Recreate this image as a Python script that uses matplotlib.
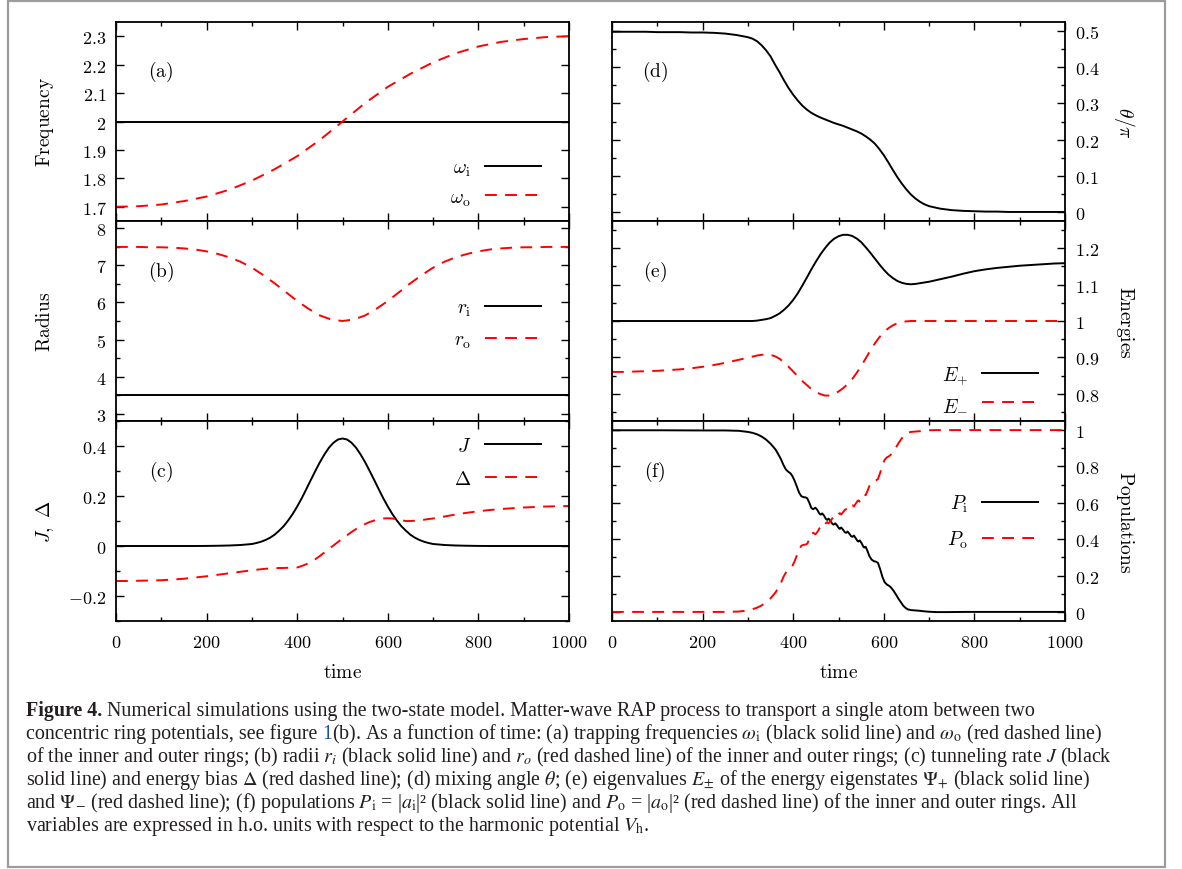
import matplotlib
matplotlib.use('Agg')
import matplotlib.pyplot as plt
from matplotlib.ticker import MultipleLocator, FuncFormatter, NullLocator
from matplotlib.patches import Rectangle

plt.rcParams['mathtext.fontset'] = 'cm'
plt.rcParams['lines.scale_dashes'] = False
plt.rcParams['font.family'] = ['DejaVu Sans']

# ---------------- data ----------------
t_a = [0, 50, 100, 150, 200, 250, 300, 350, 400, 450, 500,
       550, 600, 650, 700, 750, 800, 850, 900, 950, 1000]
omega_i = [2.0] * len(t_a)
omega_o = [1.700, 1.702, 1.708, 1.720, 1.736, 1.760, 1.792, 1.832, 1.878, 1.935, 2.000,
           2.065, 2.122, 2.168, 2.208, 2.240, 2.264, 2.280, 2.290, 2.297, 2.300]

t_b = list(range(0, 1001, 25))
r_i = [3.5] * len(t_b)
r_o = [7.50, 7.50, 7.50, 7.49, 7.49, 7.48, 7.46, 7.43, 7.38, 7.31, 7.22, 7.10, 6.94, 6.74,
       6.52, 6.28, 6.04, 5.83, 5.65, 5.54, 5.50, 5.54, 5.65, 5.83, 6.04, 6.28, 6.52, 6.74,
       6.94, 7.10, 7.22, 7.31, 7.38, 7.43, 7.46, 7.48, 7.49, 7.49, 7.50, 7.50, 7.50]

# time grid for panels (c), (d), (e): coarse at the ends, fine in the middle
t_c = ([0, 25, 50, 75, 100, 125, 150, 175, 200, 225, 250, 275, 300] +
       [310, 320, 330, 340, 350, 360, 370, 380, 390, 400, 410, 420, 430, 440, 450, 460,
        470, 480, 490, 500, 510, 520, 530, 540, 550, 560, 570, 580, 590, 600, 610, 620,
        630, 640, 650, 660, 670, 680, 690, 700] +
       [725, 750, 775, 800, 825, 850, 875, 900, 925, 950, 975, 1000])

J = ([0, 0, 0, 0, 0, 0, 0, 0, 0.0003, 0.001, 0.002, 0.004, 0.008] +
     [0.012, 0.017, 0.024, 0.033, 0.045, 0.061, 0.079, 0.102, 0.128, 0.158, 0.191, 0.227,
      0.264, 0.300, 0.335, 0.366, 0.393, 0.413, 0.426, 0.430, 0.426, 0.413, 0.393, 0.366,
      0.335, 0.300, 0.264, 0.227, 0.191, 0.158, 0.128, 0.102, 0.079, 0.061, 0.045, 0.033,
      0.024, 0.017, 0.012, 0.008] +
     [0.004, 0.002, 0.001, 0.0003, 0, 0, 0, 0, 0, 0, 0, 0])
Delta = ([-0.140, -0.140, -0.139, -0.138, -0.137, -0.134, -0.131, -0.126, -0.121, -0.115,
          -0.109, -0.103, -0.097] +
         [-0.095, -0.093, -0.091, -0.090, -0.089, -0.088, -0.088, -0.087, -0.087, -0.086,
          -0.080, -0.073, -0.064, -0.053, -0.040, -0.026, -0.012, 0.002, 0.016, 0.030,
          0.043, 0.056, 0.068, 0.079, 0.088, 0.096, 0.102, 0.107, 0.110, 0.111, 0.110,
          0.107, 0.103, 0.100, 0.100, 0.101, 0.103, 0.105, 0.108, 0.110] +
         [0.118, 0.126, 0.133, 0.139, 0.144, 0.148, 0.151, 0.154, 0.156, 0.158, 0.159, 0.160])

theta_pi = ([0.498, 0.498, 0.498, 0.498, 0.497, 0.497, 0.497, 0.496, 0.496, 0.495, 0.493,
             0.489, 0.483] +
            [0.479, 0.472, 0.461, 0.447, 0.430, 0.407, 0.386, 0.363, 0.342, 0.324, 0.308,
             0.294, 0.283, 0.274, 0.267, 0.261, 0.256, 0.251, 0.246, 0.242, 0.238, 0.233,
             0.228, 0.223, 0.217, 0.209, 0.200, 0.189, 0.174, 0.157, 0.137, 0.116, 0.096,
             0.078, 0.062, 0.048, 0.037, 0.028, 0.021, 0.016] +
            [0.009, 0.005, 0.003, 0.002, 0.001, 0.001, 0.0, 0.0, 0.0, 0.0, 0.0, 0.0])

E_plus = ([1.0, 1.0, 1.0, 1.0, 1.0, 1.0, 1.0, 1.0, 1.0, 1.0, 1.0, 1.0, 1.0] +
          [1.000, 1.001, 1.003, 1.005, 1.008, 1.014, 1.021, 1.031, 1.043, 1.058, 1.076,
           1.097, 1.119, 1.142, 1.163, 1.183, 1.200, 1.215, 1.226, 1.233, 1.237, 1.237,
           1.234, 1.227, 1.217, 1.203, 1.188, 1.172, 1.156, 1.141, 1.128, 1.118, 1.110,
           1.105, 1.102, 1.101, 1.102, 1.104, 1.106, 1.108] +
          [1.115, 1.122, 1.130, 1.137, 1.142, 1.146, 1.149, 1.152, 1.154, 1.156, 1.158, 1.159])
E_minus = ([0.860, 0.860, 0.861, 0.862, 0.863, 0.865, 0.867, 0.870, 0.874, 0.879, 0.885,
            0.892, 0.899] +
           [0.902, 0.905, 0.907, 0.908, 0.907, 0.903, 0.896, 0.886, 0.874, 0.861, 0.848,
            0.835, 0.824, 0.813, 0.805, 0.799, 0.795, 0.795, 0.799, 0.806, 0.815, 0.826,
            0.840, 0.857, 0.876, 0.897, 0.918, 0.938, 0.955, 0.969, 0.980, 0.988, 0.994,
            0.997, 0.999, 1.0, 1.0, 1.0, 1.0, 1.0] +
           [1.0, 1.0, 1.0, 1.0, 1.0, 1.0, 1.0, 1.0, 1.0, 1.0, 1.0, 1.0])

t_f = [0, 100, 200, 250, 280, 300, 310, 320, 330, 340,
       350, 356, 361, 366, 373, 379, 384, 389, 394, 398,
       403, 408, 413, 418, 423, 427, 431, 436, 440, 444,
       449, 453, 458, 461, 464, 468, 472, 475, 478, 482,
       486, 489, 493, 497, 501, 503, 506, 510, 514, 517,
       520, 524, 528, 531, 534, 538, 542, 544, 547, 551,
       555, 557, 560, 564, 568, 573, 578, 583, 587, 592,
       597, 602, 607, 612, 616, 621, 627, 633, 638, 643,
       648, 653, 660, 670, 680, 690, 700, 715, 740, 780,
       850, 900, 1000]
P_i = [0.999, 0.999, 0.998, 0.998, 0.996, 0.990, 0.985, 0.977, 0.965, 0.948,
       0.925, 0.908, 0.893, 0.872, 0.840, 0.805, 0.783, 0.771, 0.762, 0.748,
       0.722, 0.690, 0.656, 0.636, 0.631, 0.630, 0.625, 0.598, 0.572, 0.565,
       0.573, 0.562, 0.540, 0.535, 0.542, 0.530, 0.512, 0.506, 0.513, 0.502,
       0.486, 0.480, 0.487, 0.475, 0.460, 0.457, 0.464, 0.452, 0.438, 0.435,
       0.442, 0.430, 0.416, 0.413, 0.420, 0.405, 0.390, 0.387, 0.393, 0.378,
       0.358, 0.354, 0.358, 0.335, 0.308, 0.288, 0.279, 0.276, 0.270, 0.235,
       0.192, 0.163, 0.150, 0.143, 0.134, 0.118, 0.095, 0.070, 0.052, 0.034,
       0.022, 0.014, 0.010, 0.008, 0.006, 0.003, 0.001, -0.001, -0.001, 0.000,
       0.000, 0.000, 0.000]
P_o = [0.000, 0.000, 0.000, 0.000, 0.002, 0.008, 0.015, 0.023, 0.035, 0.052,
       0.075, 0.092, 0.107, 0.128, 0.160, 0.195, 0.217, 0.229, 0.238, 0.252,
       0.278, 0.310, 0.344, 0.364, 0.369, 0.370, 0.375, 0.402, 0.428, 0.435,
       0.427, 0.438, 0.460, 0.465, 0.458, 0.470, 0.488, 0.494, 0.487, 0.498,
       0.514, 0.520, 0.513, 0.525, 0.540, 0.543, 0.536, 0.548, 0.562, 0.565,
       0.558, 0.570, 0.584, 0.587, 0.580, 0.595, 0.610, 0.613, 0.607, 0.622,
       0.642, 0.646, 0.642, 0.665, 0.692, 0.712, 0.721, 0.724, 0.730, 0.765,
       0.808, 0.837, 0.850, 0.857, 0.866, 0.882, 0.905, 0.930, 0.948, 0.966,
       0.978, 0.986, 0.990, 0.992, 0.994, 0.997, 0.999, 1.000, 1.000, 1.000,
       1.000, 1.000, 1.000]

x_ticks_major = 200
x_ticks_minor = 100

# ---------------- figure ----------------
W, H, DPI = 1182, 870, 100
fig = plt.figure(figsize=(W / DPI, H / DPI), dpi=DPI)
fig.patch.set_facecolor('white')


def px_axes(x0, y0, x1, y1):
    return fig.add_axes([x0 / W, 1 - y1 / H, (x1 - x0) / W, (y1 - y0) / H])


def fmt(v, p):
    v = round(v, 6) + 0.0
    return f'${v:g}$'


def style(ax, ylim, major, minor, side, xlabels):
    ax.set_xlim(0, 1000)
    ax.set_ylim(*ylim)
    ax.xaxis.set_major_locator(MultipleLocator(x_ticks_major))
    ax.xaxis.set_minor_locator(MultipleLocator(x_ticks_minor))
    ax.yaxis.set_major_locator(MultipleLocator(major))
    if minor:
        ax.yaxis.set_minor_locator(MultipleLocator(minor))
    else:
        ax.yaxis.set_minor_locator(NullLocator())
    ax.tick_params(which='both', direction='in', top=True, right=True,
                   left=True, bottom=True, width=1.0, colors='black', labelsize=13)
    ax.tick_params(which='major', length=5.5)
    ax.tick_params(which='minor', length=3)
    ax.tick_params(axis='y', labelleft=(side == 'left'), labelright=(side == 'right'), pad=7)
    ax.tick_params(axis='x', labelbottom=xlabels, pad=9)
    ax.xaxis.set_major_formatter(FuncFormatter(fmt))
    ax.yaxis.set_major_formatter(FuncFormatter(fmt))
    for s in ax.spines.values():
        s.set_linewidth(1.3)


LW = 1.4
DASH = (0, (8.5, 6.0))
RED = '#ff0000'


def legend(ax, anchor, spacing):
    ax.legend(loc='center right', bbox_to_anchor=anchor, markerfirst=False,
              frameon=False, handlelength=2.85, handletextpad=0.75,
              labelspacing=spacing, borderpad=0, borderaxespad=0, fontsize=14)


def ylab(ax, text, side):
    if side == 'left':
        ax.set_ylabel(text, rotation=90, va='center', ha='center', fontsize=14)
        ax.yaxis.set_label_coords(-0.157, 0.5)
    else:
        ax.yaxis.set_label_position('right')
        ax.set_ylabel(text, rotation=270, va='center', ha='center', fontsize=14)
        ax.yaxis.set_label_coords(1.132, 0.5)


def panel_tag(ax, tag, x):
    ax.text(x, 0.752, r'$\mathrm{(' + tag + ')}$', transform=ax.transAxes,
            ha='center', va='center', fontsize=14)


L0, L1 = 116, 569
R0, R1 = 612, 1065
rows = [(23, 222), (222, 422), (422, 622)]

# (a)
ax = px_axes(L0, rows[0][0], L1, rows[0][1])
ax.plot(t_a, omega_i, color='black', lw=LW, label=r'$\omega_{\rm i}$')
ax.plot(t_a, omega_o, color=RED, lw=LW, linestyle=DASH, label=r'$\omega_{\rm o}$')
style(ax, (1.65, 2.35), 0.1, None, 'left', False)
ylab(ax, r'$\mathrm{Frequency}$', 'left')
panel_tag(ax, 'a', 0.099)
legend(ax, (0.938, 0.193), 0.48)

# (b)
ax = px_axes(L0, rows[1][0], L1, rows[1][1])
ax.plot(t_b, r_i, color='black', lw=LW, label=r'$r_{\rm i}$')
ax.plot(t_b, r_o, color=RED, lw=LW, linestyle=DASH, label=r'$r_{\rm o}$')
style(ax, (2.8, 8.2), 1, 0.5, 'left', False)
ylab(ax, r'$\mathrm{Radius}$', 'left')
panel_tag(ax, 'b', 0.099)
legend(ax, (0.938, 0.485), 0.62)

# (c)
ax = px_axes(L0, rows[2][0], L1, rows[2][1])
ax.plot(t_c, J, color='black', lw=LW, label=r'$J$')
ax.plot(t_c, Delta, color=RED, lw=LW, linestyle=DASH, label=r'$\Delta$')
style(ax, (-0.3, 0.5), 0.2, 0.1, 'left', True)
ylab(ax, r'$J,\ \Delta$', 'left')
ax.set_xlabel(r'$\mathrm{time}$', fontsize=14, va='center')
ax.xaxis.set_label_coords(0.5, -0.255)
panel_tag(ax, 'c', 0.099)
legend(ax, (0.938, 0.795), 0.72)

# (d)
ax = px_axes(R0, rows[0][0], R1, rows[0][1])
ax.plot(t_c, theta_pi, color='black', lw=LW)
style(ax, (-0.025, 0.525), 0.1, 0.05, 'right', False)
ylab(ax, r'$\theta/\pi$', 'right')
panel_tag(ax, 'd', 0.095)

# (e)
ax = px_axes(R0, rows[1][0], R1, rows[1][1])
ax.plot(t_c, E_plus, color='black', lw=LW, label=r'$E_{+}$')
ax.plot(t_c, E_minus, color=RED, lw=LW, linestyle=DASH, label=r'$E_{-}$')
style(ax, (0.725, 1.275), 0.1, 0.05, 'right', False)
ylab(ax, r'$\mathrm{Energies}$', 'right')
panel_tag(ax, 'e', 0.095)
legend(ax, (0.940, 0.162), 0.42)

# (f)
ax = px_axes(R0, rows[2][0], R1, rows[2][1])
ax.plot(t_f, P_i, color='black', lw=LW, label=r'$P_{\rm i}$')
ax.plot(t_f, P_o, color=RED, lw=LW, linestyle=DASH, label=r'$P_{\rm o}$')
style(ax, (-0.05, 1.05), 0.2, 0.1, 'right', True)
ylab(ax, r'$\mathrm{Populations}$', 'right')
ax.set_xlabel(r'$\mathrm{time}$', fontsize=14, va='center')
ax.xaxis.set_label_coords(0.5, -0.255)
panel_tag(ax, 'f', 0.095)
legend(ax, (0.940, 0.4975), 0.75)

# ---------------- frame ----------------
fig.patches.append(Rectangle((8 / W, 1 - 868 / H), (1165 - 8) / W, (868 - 2) / H,
                             transform=fig.transFigure, fill=False,
                             edgecolor='#9c9c9c', lw=1.6))

# ---------------- caption ----------------
caption_lines = [
    [("Figure 4.", 'bold', False),
     ("Numerical simulations using the two-state model. Matter-wave RAP process to transport a single atom between two", 'normal', True)],
    [("concentric ring potentials, see figure", 'normal', False), ("1", 'link', True),
     (r"(b). As a function of time: (a) trapping frequencies $\omega_{\rm i}$ (black solid line) and $\omega_{\rm o}$ (red dashed line)", 'normal', False)],
    [(r"of the inner and outer rings; (b) radii $r_i$ (black solid line) and $r_o$ (red dashed line) of the inner and outer rings; (c) tunneling rate $J$ (black", 'normal', False)],
    [(r"solid line) and energy bias $\Delta$ (red dashed line); (d) mixing angle $\theta$; (e) eigenvalues $E_{\pm}$ of the energy eigenstates $\Psi_{+}$ (black solid line)", 'normal', False)],
    [(r"and $\Psi_{-}$ (red dashed line); (f) populations $P_{\rm i}$ = |$a_{\rm i}$|² (black solid line) and $P_{\rm o}$ = |$a_{\rm o}$|² (red dashed line) of the inner and outer rings. All", 'normal', False)],
    [(r"variables are expressed in h.o. units with respect to the harmonic potential $V_{\rm h}$.", 'normal', False)],
]
cap_x0 = 26
cap_base0 = 716
cap_step = 23
cap_target_width = 1085  # width of the longest (third) line

renderer = fig.canvas.get_renderer()


def draw_caption_line(segs, y, size):
    x = cap_x0
    texts = []
    for s, kind, gap in segs:
        if gap:
            x += 0.25 * size * DPI / 72.0
        t = fig.text(x / W, 1 - y / H, s, ha='left', va='baseline', fontsize=size,
                     family='Liberation Serif', math_fontfamily='stix',
                     fontweight='bold' if kind == 'bold' else 'normal',
                     color='#1f4e9e' if kind == 'link' else '#231f20')
        texts.append(t)
        x = t.get_window_extent(renderer).x1
    return texts, x - cap_x0


base_size = 12.0
tmp, wid = draw_caption_line(caption_lines[2], cap_base0, base_size)
for t in tmp:
    t.remove()
cap_size = base_size * cap_target_width / wid

for i, segs in enumerate(caption_lines):
    draw_caption_line(segs, cap_base0 + i * cap_step, cap_size)

fig.savefig('out.png', dpi=DPI, facecolor='white')
